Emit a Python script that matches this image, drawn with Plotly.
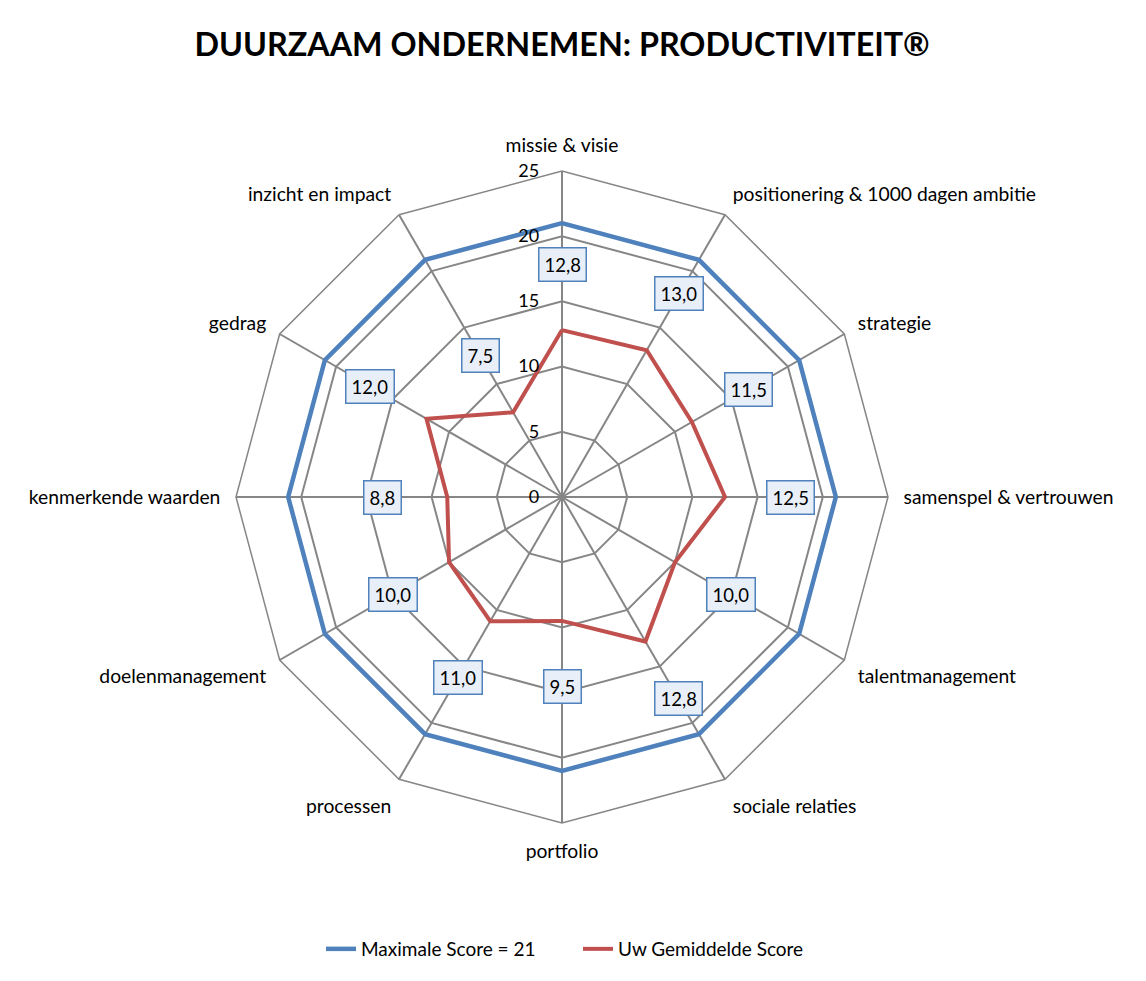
import math
import plotly.graph_objects as go

categories = ["missie & visie", "positionering & 1000 dagen ambitie", "strategie",
              "samenspel & vertrouwen", "talentmanagement", "sociale relaties",
              "portfolio", "processen", "doelenmanagement", "kenmerkende waarden",
              "gedrag", "inzicht en impact"]
max_score = [21] * 12
avg_score = [12.8, 13.0, 11.5, 12.5, 10.0, 12.8, 9.5, 11.0, 10.0, 8.8, 12.0, 7.5]
label_text = ["12,8", "13,0", "11,5", "12,5", "10,0", "12,8", "9,5", "11,0", "10,0", "8,8", "12,0", "7,5"]
radial_ticks = [0, 5, 10, 15, 20, 25]

W, H = 1146, 981
OFF = 8  # browser body margin
CX, CY, R = 562 - OFF, 497 - OFF, 326
RMAX = 25
LABEL_OFFSET = 5.0

BLUE = "#4F81BD"
RED = "#C0504D"
GRID = "#868686"
FONT = "Lato"

dom_x = [(CX - R) / W, (CX + R) / W]
dom_y = [1 - (CY + R) / H, 1 - (CY - R) / H]

fig = go.Figure()
fig.add_trace(go.Scatterpolar(
    r=max_score + [max_score[0]], theta=categories + [categories[0]],
    mode="lines", line=dict(color=BLUE, width=4.5),
    name="Maximale Score = 21"))
fig.add_trace(go.Scatterpolar(
    r=avg_score + [avg_score[0]], theta=categories + [categories[0]],
    mode="lines", line=dict(color=RED, width=4),
    name="Uw Gemiddelde Score"))

annotations = []
n = len(categories)
for i, (v, t) in enumerate(zip(avg_score, label_text)):
    ang = 2 * math.pi * i / n
    rp = (v + LABEL_OFFSET) / RMAX * R
    px = CX + rp * math.sin(ang)
    py = CY - rp * math.cos(ang)
    annotations.append(dict(
        x=px / W, y=1 - py / H, xref="paper", yref="paper",
        text=t, showarrow=False, xanchor="center", yanchor="middle",
        font=dict(family=FONT, size=18.5, color="black"),
        bgcolor="#E9EFF8", bordercolor=BLUE, borderwidth=1.5, borderpad=5))

fig.update_layout(
    width=W, height=H,
    margin=dict(l=0, r=0, t=0, b=0),
    paper_bgcolor="white", plot_bgcolor="white",
    title=dict(text="<b>DUURZAAM ONDERNEMEN: PRODUCTIVITEIT®</b>",
               x=(562 - OFF) / W, xanchor="center", y=1 - (45 - OFF) / H, yanchor="middle",
               font=dict(family=FONT, size=32.3, color="black")),
    polar=dict(
        domain=dict(x=dom_x, y=dom_y),
        gridshape="linear",
        bgcolor="white",
        angularaxis=dict(direction="clockwise", rotation=90,
                         showline=True, linecolor=GRID, linewidth=1.5,
                         gridcolor=GRID, gridwidth=1.5,
                         ticks="outside", ticklen=11, tickcolor="rgba(0,0,0,0)",
                         tickfont=dict(family=FONT, size=19.3, color="black")),
        radialaxis=dict(range=[0, RMAX], tickvals=radial_ticks, angle=90,
                        tickangle=90, side="counterclockwise",
                        showline=False, ticks="outside", ticklen=16,
                        tickcolor="rgba(0,0,0,0)",
                        gridcolor=GRID, gridwidth=1.5,
                        tickfont=dict(family=FONT, size=18, color="black")),
    ),
    legend=dict(orientation="h", x=(578 - OFF) / W, xanchor="center", y=1 - (949 - OFF) / H,
                yanchor="middle", font=dict(family=FONT, size=19, color="black"),
                entrywidth=212),
    annotations=annotations,
    showlegend=True,
)

fig.write_html("out.html")
